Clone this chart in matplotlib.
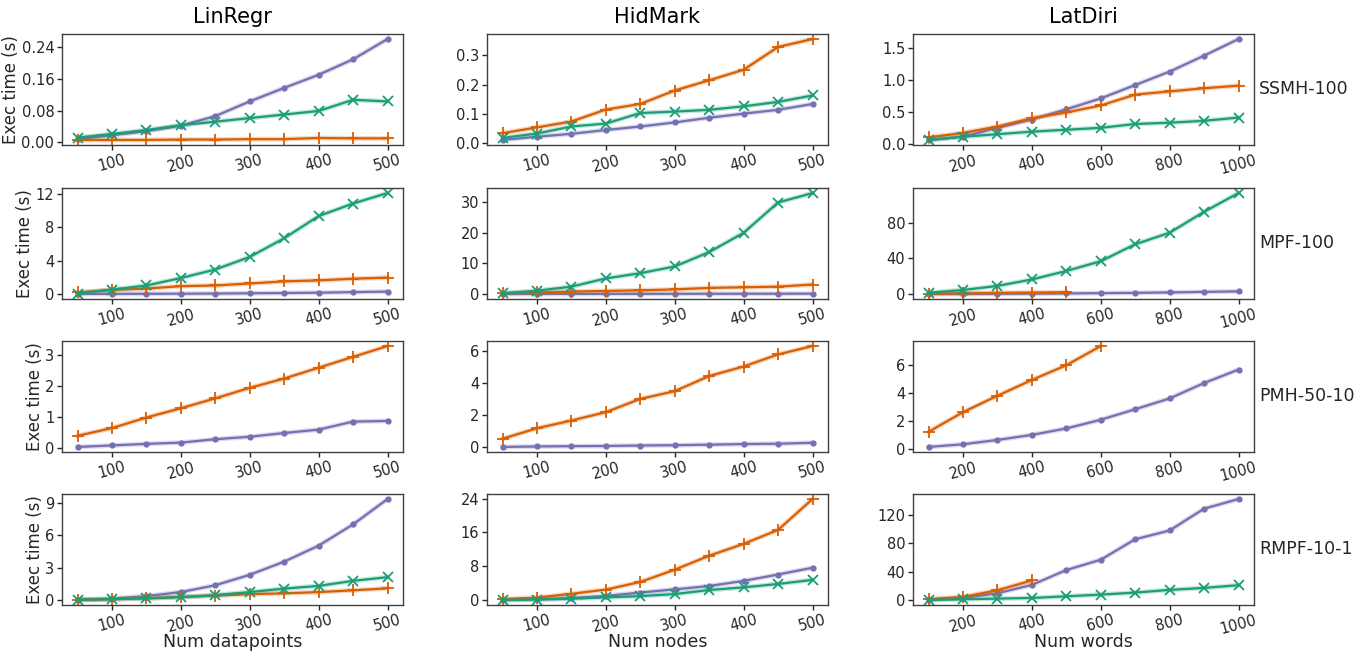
import matplotlib
matplotlib.use("Agg")
import matplotlib.pyplot as plt

# ---------------- data ----------------
col_titles = ["LinRegr", "HidMark", "LatDiri"]
row_labels = ["SSMH-100", "MPF-100", "PMH-50-10", "RMPF-10-1"]
x_labels = ["Num datapoints", "Num nodes", "Num words"]

x_datapoints = [50, 100, 150, 200, 250, 300, 350, 400, 450, 500]
x_nodes = [50, 100, 150, 200, 250, 300, 350, 400, 450, 500]
x_words = [100, 200, 300, 400, 500, 600, 700, 800, 900, 1000]

# LinRegr
lr_ssmh_purple = [0.008, 0.018, 0.028, 0.042, 0.066, 0.103, 0.137, 0.170, 0.209, 0.260]
lr_ssmh_orange = [0.006, 0.006, 0.006, 0.007, 0.007, 0.008, 0.008, 0.011, 0.010, 0.010]
lr_ssmh_green = [0.012, 0.021, 0.031, 0.043, 0.052, 0.061, 0.070, 0.079, 0.107, 0.103]

lr_mpf_purple = [0.05, 0.06, 0.07, 0.08, 0.10, 0.13, 0.16, 0.20, 0.27, 0.33]
lr_mpf_orange = [0.24, 0.53, 0.69, 0.98, 1.06, 1.30, 1.55, 1.67, 1.87, 2.00]
lr_mpf_green = [0.10, 0.57, 1.06, 1.95, 2.97, 4.47, 6.70, 9.35, 10.85, 12.10]

lr_pmh_purple = [0.04, 0.09, 0.14, 0.18, 0.29, 0.37, 0.49, 0.60, 0.86, 0.88]
lr_pmh_orange = [0.40, 0.65, 0.99, 1.29, 1.61, 1.95, 2.25, 2.60, 2.95, 3.30]

lr_rmpf_purple = [0.05, 0.13, 0.38, 0.75, 1.38, 2.35, 3.57, 5.05, 7.02, 9.37]
lr_rmpf_orange = [0.02, 0.08, 0.18, 0.30, 0.42, 0.56, 0.63, 0.75, 0.91, 1.10]
lr_rmpf_green = [0.03, 0.10, 0.16, 0.28, 0.47, 0.75, 1.07, 1.32, 1.79, 2.13]

# HidMark
hm_ssmh_purple = [0.011, 0.022, 0.032, 0.045, 0.057, 0.071, 0.087, 0.101, 0.114, 0.134]
hm_ssmh_orange = [0.034, 0.054, 0.074, 0.115, 0.134, 0.180, 0.215, 0.251, 0.329, 0.356]
hm_ssmh_green = [0.018, 0.033, 0.057, 0.067, 0.103, 0.108, 0.114, 0.126, 0.141, 0.163]

hm_mpf_purple = [0.02, 0.03, 0.04, 0.05, 0.06, 0.07, 0.08, 0.09, 0.10, 0.12]
hm_mpf_orange = [0.3, 0.5, 0.8, 1.0, 1.2, 1.5, 2.0, 2.2, 2.4, 3.1]
hm_mpf_green = [0.2, 1.1, 2.4, 5.1, 6.8, 9.0, 13.7, 20.0, 29.9, 33.0]

hm_pmh_purple = [0.03, 0.06, 0.08, 0.09, 0.12, 0.14, 0.17, 0.21, 0.23, 0.29]
hm_pmh_orange = [0.54, 1.19, 1.67, 2.19, 3.01, 3.49, 4.43, 5.02, 5.77, 6.29]

hm_rmpf_purple = [0.05, 0.2, 0.5, 1.0, 1.8, 2.55, 3.35, 4.55, 6.06, 7.66]
hm_rmpf_orange = [0.2, 0.6, 1.5, 2.5, 4.3, 7.2, 10.5, 13.3, 16.6, 23.9]
hm_rmpf_green = [0.05, 0.15, 0.35, 0.65, 0.96, 1.44, 2.4, 3.03, 3.83, 4.79]

# LatDiri
ld_ssmh_purple = [0.06, 0.11, 0.25, 0.38, 0.54, 0.71, 0.92, 1.13, 1.38, 1.64]
ld_ssmh_orange = [0.10, 0.17, 0.27, 0.40, 0.49, 0.60, 0.77, 0.82, 0.87, 0.91]
ld_ssmh_green = [0.06, 0.11, 0.15, 0.19, 0.22, 0.25, 0.31, 0.33, 0.36, 0.41]

ld_mpf_purple = [0.1, 0.2, 0.3, 0.5, 0.7, 1.0, 1.3, 1.8, 2.4, 3.0]
ld_mpf_orange = [0.3, 0.8, 1.2, 1.6, 2.0]
ld_mpf_green = [1.5, 4.5, 9.1, 16.3, 25.8, 36.7, 55.7, 68.6, 92.0, 113.0]

ld_pmh_purple = [0.12, 0.31, 0.62, 0.98, 1.44, 2.06, 2.81, 3.58, 4.68, 5.64]
ld_pmh_orange = [1.2, 2.6, 3.77, 4.9, 5.95, 7.32]

ld_rmpf_purple = [0.9, 3.3, 9.9, 21.6, 42.4, 56.9, 85.6, 97.9, 128.5, 142.0]
ld_rmpf_orange = [1.4, 4.7, 14.1, 27.8]
ld_rmpf_green = [0.5, 1.4, 2.4, 3.3, 5.6, 8.0, 10.8, 14.6, 17.4, 21.2]

y_ticks = [
    [[0.00, 0.08, 0.16, 0.24], [0.0, 0.1, 0.2, 0.3], [0.0, 0.5, 1.0, 1.5]],
    [[0, 4, 8, 12], [0, 10, 20, 30], [0, 40, 80]],
    [[0, 1, 2, 3], [0, 2, 4, 6], [0, 2, 4, 6]],
    [[0, 3, 6, 9], [0, 8, 16, 24], [0, 40, 80, 120]],
]
y_fmt = [["{:.2f}", "{:.1f}", "{:.1f}"]] + [["{:g}"] * 3] * 3
x_ticks = [[100, 200, 300, 400, 500], [100, 200, 300, 400, 500],
           [200, 400, 600, 800, 1000]]

# ---------------- style ----------------
C_PURPLE = "#7570b3"
C_ORANGE = "#d95f02"
C_GREEN = "#1b9e77"
plt.rcParams['font.family'] = ['DejaVu Sans']

W, H = 1368, 651
fig = plt.figure(figsize=(W / 100, H / 100), dpi=100)

col_left = [62, 487, 913]
ax_w = 341
row_top = [34, 188, 341, 494]
ax_h = 111

xs = [x_datapoints, x_nodes, x_words]
grid = [
    [(lr_ssmh_purple, lr_ssmh_orange, lr_ssmh_green),
     (hm_ssmh_purple, hm_ssmh_orange, hm_ssmh_green),
     (ld_ssmh_purple, ld_ssmh_orange, ld_ssmh_green)],
    [(lr_mpf_purple, lr_mpf_orange, lr_mpf_green),
     (hm_mpf_purple, hm_mpf_orange, hm_mpf_green),
     (ld_mpf_purple, ld_mpf_orange, ld_mpf_green)],
    [(lr_pmh_purple, lr_pmh_orange, None),
     (hm_pmh_purple, hm_pmh_orange, None),
     (ld_pmh_purple, ld_pmh_orange, None)],
    [(lr_rmpf_purple, lr_rmpf_orange, lr_rmpf_green),
     (hm_rmpf_purple, hm_rmpf_orange, hm_rmpf_green),
     (ld_rmpf_purple, ld_rmpf_orange, ld_rmpf_green)],
]


def draw(ax, x, y, color, marker, ms, mew):
    if y is None:
        return
    xx = x[:len(y)]
    ax.plot(xx, y, color=color, lw=3.5, alpha=0.25, solid_capstyle='round')
    ax.plot(xx, y, color=color, lw=1.6, marker=marker, markersize=ms,
            markeredgewidth=mew)


for r in range(4):
    for c in range(3):
        ax = fig.add_axes([col_left[c] / W, 1 - (row_top[r] + ax_h) / H,
                           ax_w / W, ax_h / H])
        p, o, g = grid[r][c]
        x = xs[c]
        draw(ax, x, p, C_PURPLE, 'o', 3.5, 1.0)
        draw(ax, x, o, C_ORANGE, '+', 8, 1.3)
        draw(ax, x, g, C_GREEN, 'x', 7, 1.3)
        ax.set_xticks(x_ticks[c])
        ax.set_xticklabels([str(v) for v in x_ticks[c]], rotation=15)
        ax.set_yticks(y_ticks[r][c])
        ax.set_yticklabels([y_fmt[r][c].format(v) for v in y_ticks[r][c]])
        ax.tick_params(labelsize=10.5, colors='#262626', length=3.5, width=1,
                       pad=2)
        for s in ax.spines.values():
            s.set_color('#404040')
            s.set_linewidth(1.0)
        if c == 0:
            ax.set_ylabel("Exec time (s)", fontsize=12, color='#262626',
                          labelpad=1)
        if r == 0:
            ax.set_title(col_titles[c], fontsize=15, color='black', pad=8)
        if r == 3:
            ax.set_xlabel(x_labels[c], fontsize=12.5, color='#262626')
            ax.xaxis.set_label_coords(0.5, -0.25)
            ax.xaxis.label.set_va('top')
        if c == 2:
            ax.text(1.015, 0.5, row_labels[r], transform=ax.transAxes,
                    fontsize=12.5, va='center', ha='left', color='#262626')

fig.savefig("out.png", dpi=100)
